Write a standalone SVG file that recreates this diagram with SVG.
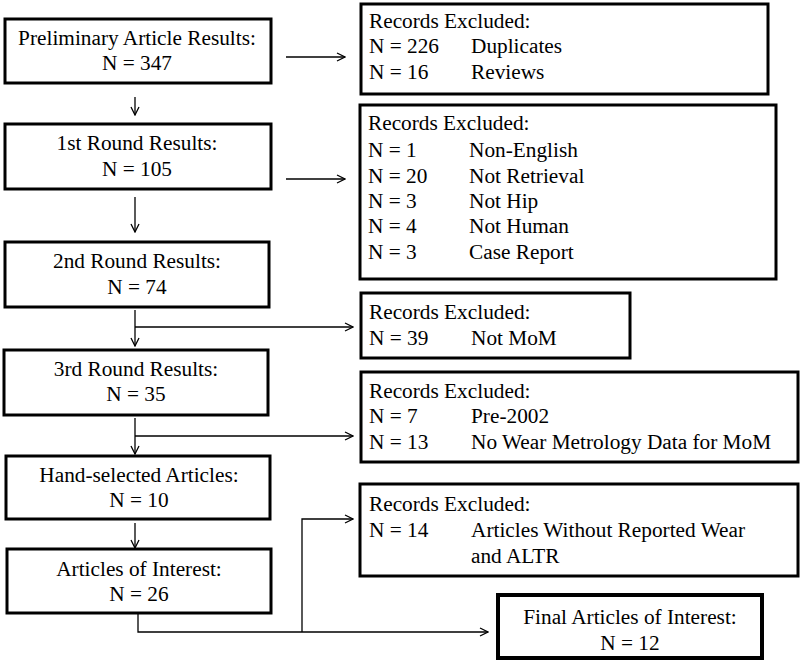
<svg xmlns="http://www.w3.org/2000/svg" width="800" height="662" viewBox="0 0 800 662">
<style>
.box{fill:#fff;stroke:#000;stroke-width:3}
.bold{stroke-width:4}
text{font-family:"Liberation Serif","Times New Roman",serif;font-size:21.3px;fill:#000}
.c{text-anchor:middle}
.con{fill:none;stroke:#000;stroke-width:1.3}
</style>
<defs>
<marker id="ah" viewBox="0 0 10 10" refX="9" refY="5" markerWidth="10" markerHeight="10" markerUnits="userSpaceOnUse" orient="auto">
<path d="M1,1 L9,5 L1,9" fill="none" stroke="#000" stroke-width="1.3"/>
</marker>
</defs>
<rect width="800" height="662" fill="#fff"/>
<g id="n1"><rect class="box" x="5" y="19" width="266" height="64"/><text class="c" x="137" y="45">Preliminary Article Results:</text><text class="c" x="137" y="70">N = 347</text></g>
<g id="n2"><rect class="box" x="5" y="124" width="266" height="65"/><text class="c" x="137" y="150">1st Round Results:</text><text class="c" x="137" y="176">N = 105</text></g>
<g id="n3"><rect class="box" x="5" y="242" width="264" height="65"/><text class="c" x="137" y="268">2nd Round Results:</text><text class="c" x="137" y="294">N = 74</text></g>
<g id="n4"><rect class="box" x="4" y="350" width="264" height="65"/><text class="c" x="136" y="376">3rd Round Results:</text><text class="c" x="136" y="401">N = 35</text></g>
<g id="n5"><rect class="box" x="6" y="456" width="264" height="63"/><text class="c" x="139" y="482">Hand-selected Articles:</text><text class="c" x="139" y="507">N = 10</text></g>
<g id="n6"><rect class="box" x="7" y="549" width="264" height="64"/><text class="c" x="139" y="576">Articles of Interest:</text><text class="c" x="139" y="601">N = 26</text></g>
<g id="n7"><rect class="box bold" x="498" y="595" width="264" height="63"/><text class="c" x="630" y="624">Final Articles of Interest:</text><text class="c" x="630" y="650">N = 12</text></g>
<g id="r1"><rect class="box" x="361" y="4" width="407" height="90"/><text x="369" y="28">Records Excluded:</text><text x="369" y="53">N = 226</text><text x="471" y="53">Duplicates</text><text x="369" y="79">N = 16</text><text x="471" y="79">Reviews</text></g>
<g id="r2"><rect class="box" x="360" y="105" width="416" height="174"/><text x="368" y="130">Records Excluded:</text><text x="368" y="157">N = 1</text><text x="469" y="157">Non-English</text><text x="368" y="183">N = 20</text><text x="469" y="183">Not Retrieval</text><text x="368" y="208">N = 3</text><text x="469" y="208">Not Hip</text><text x="368" y="233">N = 4</text><text x="469" y="233">Not Human</text><text x="368" y="259">N = 3</text><text x="469" y="259">Case Report</text></g>
<g id="r3"><rect class="box" x="361" y="293" width="269" height="65"/><text x="369" y="319">Records Excluded:</text><text x="369" y="345">N = 39</text><text x="471" y="345">Not MoM</text></g>
<g id="r4"><rect class="box" x="361" y="372" width="437" height="90"/><text x="369" y="398">Records Excluded:</text><text x="369" y="423">N = 7</text><text x="471" y="423">Pre-2002</text><text x="369" y="449">N = 13</text><text x="471" y="449">No Wear Metrology Data for MoM</text></g>
<g id="r5"><rect class="box" x="360" y="484" width="438" height="92"/><text x="369" y="511">Records Excluded:</text><text x="369" y="537">N = 14</text><text x="471" y="537">Articles Without Reported Wear</text><text x="471" y="563">and ALTR</text></g>
<g id="connectors">
<line class="con" x1="286" y1="57" x2="345" y2="57" marker-end="url(#ah)"/>
<line class="con" x1="135" y1="97" x2="135" y2="115" marker-end="url(#ah)"/>
<line class="con" x1="286" y1="179" x2="345" y2="179" marker-end="url(#ah)"/>
<line class="con" x1="135" y1="197" x2="135" y2="232" marker-end="url(#ah)"/>
<line class="con" x1="135" y1="310" x2="135" y2="346" marker-end="url(#ah)"/>
<line class="con" x1="135" y1="327" x2="353" y2="327" marker-end="url(#ah)"/>
<line class="con" x1="135" y1="418" x2="135" y2="454" marker-end="url(#ah)"/>
<line class="con" x1="135" y1="436" x2="353" y2="436" marker-end="url(#ah)"/>
<line class="con" x1="135" y1="523" x2="135" y2="548" marker-end="url(#ah)"/>
<polyline class="con" points="138,614 138,632 488,632" marker-end="url(#ah)"/>
<polyline class="con" points="302,632 302,519 353,519" marker-end="url(#ah)"/>
</g>
</svg>
